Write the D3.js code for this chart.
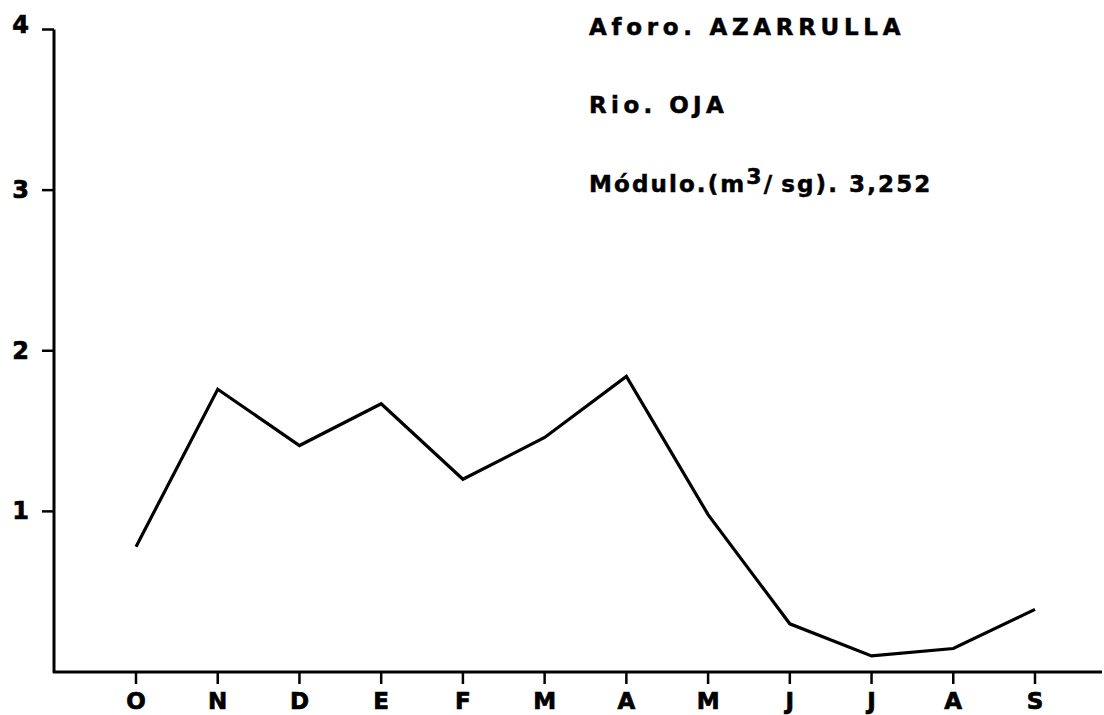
<!DOCTYPE html>
<html>
<head>
<meta charset="utf-8">
<script src="https://cdn.jsdelivr.net/npm/d3@7"></script>
<style>
  body { margin: 0; background: #fff; }
  text { font-family: "DejaVu Sans", sans-serif; font-weight: bold; fill: #000; }
</style>
</head>
<body>
<svg id="chart" width="1104" height="715"></svg>
<script>
// monthly discharge, hydrological year Oct..Sep
const months = ["O", "N", "D", "E", "F", "M", "A", "M", "J", "J", "A", "S"];
const flows = [0.78, 1.76, 1.41, 1.67, 1.20, 1.46, 1.84, 0.98, 0.30, 0.10, 0.146, 0.39];
const yTicks = [1, 2, 3, 4];

let svg = d3.select("#chart");

let x = d3.scalePoint()
    .domain(d3.range(months.length))
    .range([136, 1035]);

let y = d3.scaleLinear()
    .domain([0, 4])
    .range([672, 29.5]);

// y axis
let yAxis = svg.append("g");
yAxis.append("line")
    .attr("x1", 54).attr("x2", 54)
    .attr("y1", y(4)).attr("y2", y(0) + 1)
    .attr("stroke", "#000").attr("stroke-width", 3);
yAxis.selectAll(".tk")
    .data(yTicks)
    .enter().append("line")
    .attr("x1", 42).attr("x2", 54)
    .attr("y1", (d)=>y(d)).attr("y2", (d)=>y(d))
    .attr("stroke", "#000").attr("stroke-width", 2.5);
yAxis.selectAll("text")
    .data(yTicks)
    .enter().append("text")
    .attr("x", 29)
    .attr("y", (d)=>y(d) + (d == 4 ? 3 : 8))
    .attr("text-anchor", "end")
    .attr("font-size", 24)
    .attr("stroke", "#000").attr("stroke-width", 0.7)
    .text((d)=>d);

// x axis
let xAxis = svg.append("g");
xAxis.append("line")
    .attr("x1", 53).attr("x2", 1102)
    .attr("y1", y(0)).attr("y2", y(0))
    .attr("stroke", "#000").attr("stroke-width", 3);
xAxis.selectAll(".tk")
    .data(d3.range(months.length))
    .enter().append("line")
    .attr("x1", (d)=>x(d)).attr("x2", (d)=>x(d))
    .attr("y1", y(0)).attr("y2", y(0) + 12)
    .attr("stroke", "#000").attr("stroke-width", 2.5);
xAxis.selectAll("text")
    .data(months)
    .enter().append("text")
    .attr("x", (d, i)=>x(i))
    .attr("y", 709)
    .attr("text-anchor", "middle")
    .attr("font-size", 23)
    .attr("stroke", "#000").attr("stroke-width", 0.7)
    .text((d)=>d);

// flow line
let line = d3.line()
    .x((d, i)=>x(i))
    .y((d)=>y(d));

svg.append("path")
    .datum(flows)
    .attr("d", line)
    .attr("fill", "none")
    .attr("stroke", "#000")
    .attr("stroke-width", 3.2)
    .attr("stroke-linejoin", "miter");

// header text
let head = svg.append("g")
    .attr("font-size", 23)
    .attr("stroke", "#000").attr("stroke-width", 0.5);

head.append("text")
    .attr("x", 589).attr("y", 35)
    .attr("letter-spacing", 4.7)
    .text("Aforo. AZARRULLA");

head.append("text")
    .attr("x", 589).attr("y", 113)
    .attr("letter-spacing", 4.4)
    .text("Rio. OJA");

let mod = head.append("text")
    .attr("x", 589).attr("y", 192)
    .attr("letter-spacing", 2.1);
mod.append("tspan").text("Módulo.(m");
mod.append("tspan").attr("dy", -8).attr("font-size", 22).text("3");
mod.append("tspan").attr("dy", 8).attr("letter-spacing", 0.5).text("/ ");
mod.append("tspan").text("sg). 3,252");
</script>
</body>
</html>
